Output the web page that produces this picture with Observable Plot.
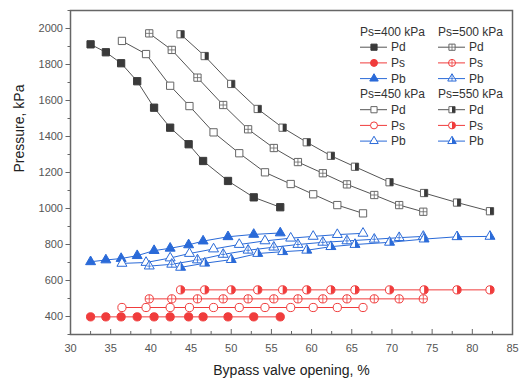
<!DOCTYPE html>
<html>
<head>
<meta charset="utf-8">
<script src="https://cdn.jsdelivr.net/npm/d3@7"></script>
<script src="https://cdn.jsdelivr.net/npm/@observablehq/plot@0.6"></script>
<style>
  html, body { margin: 0; padding: 0; background: #fff; }
  #chart { width: 528px; height: 385px; }
</style>
</head>
<body>
<div id="chart"></div>
<script>
// ---- data ----
const x400 = [32.5, 34.4, 36.3, 38.3, 40.4, 42.4, 44.7, 46.5, 49.6, 52.8, 56.1];
const pd400 = [1912, 1868, 1807, 1707, 1560, 1449, 1357, 1264, 1153, 1062, 1007];
const ps400 = [398, 398, 398, 398, 398, 398, 398, 398, 398, 398, 398];
const pb400 = [704, 714, 722, 738, 766, 779, 798, 819, 843, 856, 864];

const x450 = [36.4, 39.4, 42.4, 44.8, 47.8, 51.0, 54.2, 57.4, 60.2, 63.2, 66.4];
const pd450 = [1931, 1858, 1682, 1569, 1423, 1307, 1201, 1136, 1079, 1019, 973];
const ps450 = [450, 450, 450, 450, 450, 450, 450, 450, 450, 450, 450];
const pb450 = [695, 700, 725, 750, 775, 800, 820, 835, 845, 855, 862];

const x500 = [39.8, 42.6, 45.8, 49.0, 52.1, 55.3, 58.3, 61.4, 64.4, 67.8, 70.9, 73.9];
const pd500 = [1973, 1881, 1727, 1575, 1440, 1336, 1258, 1196, 1134, 1075, 1019, 982];
const ps500 = [498, 498, 498, 498, 498, 498, 498, 498, 498, 498, 498, 498];
const pb500 = [680, 690, 714, 745, 768, 785, 800, 812, 820, 829, 838, 845];

const x550 = [43.7, 46.7, 50.0, 53.3, 56.4, 59.4, 62.4, 65.4, 69.7, 74.0, 78.1, 82.2];
const pd550 = [1968, 1847, 1692, 1553, 1449, 1368, 1293, 1232, 1146, 1086, 1033, 985];
const ps550 = [548, 548, 548, 548, 548, 548, 548, 548, 548, 548, 548, 548];
const pb550 = [673, 696, 716, 750, 760, 768, 788, 800, 812, 830, 843, 845];

const xTicks = [30, 35, 40, 45, 50, 55, 60, 65, 70, 75, 80, 85];
const yTicks = [400, 600, 800, 1000, 1200, 1400, 1600, 1800, 2000];
const xLabel = "Bypass valve opening, %";
const yLabel = "Pressure, kPa";
const legendTitles = {400: "Ps=400 kPa", 450: "Ps=450 kPa", 500: "Ps=500 kPa", 550: "Ps=550 kPa"};
const varNames = ["Pd", "Ps", "Pb"];

// ---- build table ----
const groups = [
  {p: 400, x: x400, Pd: pd400, Ps: ps400, Pb: pb400, style: "filled"},
  {p: 450, x: x450, Pd: pd450, Ps: ps450, Pb: pb450, style: "open"},
  {p: 500, x: x500, Pd: pd500, Ps: ps500, Pb: pb500, style: "plus"},
  {p: 550, x: x550, Pd: pd550, Ps: ps550, Pb: pb550, style: "half"}
];

// ---- custom symbols ----
const halfSym = {
  square: {draw(ctx, size) { const s = Math.sqrt(size) / 2; ctx.moveTo(0, -s); ctx.lineTo(s, -s); ctx.lineTo(s, s); ctx.lineTo(0, s); ctx.closePath(); }},
  circle: {draw(ctx, size) { const r = Math.sqrt(size / Math.PI); ctx.moveTo(0, -r); ctx.arc(0, 0, r, -Math.PI / 2, Math.PI / 2); ctx.closePath(); }},
  triangle: {draw(ctx, size) { const y = -Math.sqrt(size / (Math.sqrt(3) * 3)); ctx.moveTo(0, y * 2); ctx.lineTo(-Math.sqrt(3) * y, -y); ctx.lineTo(0, -y); ctx.closePath(); }}
};
const plusSym = {
  square: {draw(ctx, size) { const s = Math.sqrt(size) / 2; ctx.moveTo(-s, 0); ctx.lineTo(s, 0); ctx.moveTo(0, -s); ctx.lineTo(0, s); }},
  circle: {draw(ctx, size) { const r = Math.sqrt(size / Math.PI); ctx.moveTo(-r, 0); ctx.lineTo(r, 0); ctx.moveTo(0, -r); ctx.lineTo(0, r); }},
  triangle: {draw(ctx, size) { const y = -Math.sqrt(size / (Math.sqrt(3) * 3)); const h = -y * 0.75; ctx.moveTo(-h, 0); ctx.lineTo(h, 0); ctx.moveTo(0, 2 * y * 0.8); ctx.lineTo(0, -y); }}
};
const baseSym = {square: d3.symbolSquare, circle: d3.symbolCircle, triangle: d3.symbolTriangle};

const varColor = {Pd: "#3a3a3a", Ps: "#f03c3c", Pb: "#2a6ad8"};
const openColor = {Pd: "#666666", Ps: "#f03c3c", Pb: "#2a6ad8"};
const lineColor = {Pd: "#555555", Ps: "#f03c3c", Pb: "#2a6ad8"};
const varShape = {Pd: "square", Ps: "circle", Pb: "triangle"};
const varR = {Pd: 4.1, Ps: 4.1, Pb: 3.7};

const lineMarks = [];
const dotMarks = [];
for (const g of groups) {
  for (const v of varNames) {
    const rows = g.x.map((x, i) => ({x, P: g[v][i]}));
    const c = g.style === "filled" ? varColor[v] : openColor[v];
    const shape = varShape[v], r = varR[v];
    lineMarks.push(Plot.line(rows, {x: "x", y: "P", stroke: lineColor[v], strokeWidth: 1}));
    dotMarks.push(Plot.dot(rows, {x: "x", y: "P", r, symbol: baseSym[shape],
      fill: g.style === "filled" ? c : "white", stroke: c, strokeWidth: 1}));
    if (g.style === "plus") dotMarks.push(Plot.dot(rows, {x: "x", y: "P", r, symbol: plusSym[shape], fill: "none", stroke: c, strokeWidth: 0.8}));
    if (g.style === "half") dotMarks.push(Plot.dot(rows, {x: "x", y: "P", r, symbol: halfSym[shape], fill: varColor[v], stroke: "none"}));
  }
}

const chart = Plot.plot({
  width: 528, height: 385,
  marginLeft: 70, marginRight: 16, marginTop: 10, marginBottom: 51,
  style: {fontFamily: "Liberation Sans, Arial, sans-serif", background: "white", color: "#444"},
  x: {domain: [30, 85]},
  y: {domain: [300, 2100]},
  marks: [
    Plot.axisY(d3.range(300, 2101, 100), {tickSize: 2.5, text: null, label: null, stroke: "#666"}),
    Plot.axisY(yTicks, {tickSize: 4.5, tickPadding: 3, fontSize: 11, label: null, stroke: "#666", fill: "#555", tickFormat: "d"}),
    Plot.axisX(d3.range(32.5, 85, 5), {tickSize: -3, text: null, label: null, stroke: "#666"}),
    Plot.axisX(xTicks, {tickSize: -5, text: null, label: null, stroke: "#666"}),
    Plot.axisX(xTicks, {tickSize: 0, tickPadding: 10, fontSize: 11, label: null, fill: "#555", tickFormat: "d"}),
    Plot.text([xLabel], {frameAnchor: "bottom", dy: 40, fontSize: 14, fill: "#222"}),
    Plot.text([yLabel], {frameAnchor: "left", dx: -51, rotate: -90, fontSize: 14, fill: "#222"}),
    ...lineMarks,
    ...dotMarks,
    Plot.frame({stroke: "#666", strokeWidth: 1.5})
  ]
});
document.getElementById("chart").appendChild(chart);

// ---- legend inside the plot area ----
const svg = d3.select(chart);
const leg = svg.append("g")
  .attr("font-family", "Liberation Sans, Arial, sans-serif")
  .attr("font-size", 12).attr("fill", "#333").attr("text-anchor", "start");
const blocks = [[400, 500], [450, 550]];
const colX = [360, 438];
const blockY = [31.5, 94];
const rowH = 15.7;
blocks.forEach((blk, b) => {
  blk.forEach((p, c) => {
    const g = groups.find(d => d.p === p);
    const x0 = colX[c], y0 = blockY[b];
    leg.append("text").attr("x", x0).attr("y", y0).attr("dy", "0.35em").attr("text-anchor", "start").text(legendTitles[p]);
    varNames.forEach((v, k) => {
      const y = y0 + (k + 1) * rowH;
      const col = g.style === "filled" ? varColor[v] : openColor[v], shape = varShape[v];
      const area = Math.PI * Math.pow(varR[v] * 0.85, 2);
      leg.append("line").attr("x1", x0).attr("x2", x0 + 27).attr("y1", y).attr("y2", y).attr("stroke", lineColor[v]).attr("stroke-width", 1);
      const t = `translate(${x0 + 14},${y})`;
      leg.append("path").attr("transform", t).attr("d", d3.symbol(baseSym[shape], area)())
        .attr("fill", g.style === "filled" ? col : "white").attr("stroke", col).attr("stroke-width", 1);
      if (g.style === "plus") leg.append("path").attr("transform", t).attr("d", d3.symbol(plusSym[shape], area)()).attr("fill", "none").attr("stroke", col).attr("stroke-width", 0.8);
      if (g.style === "half") leg.append("path").attr("transform", t).attr("d", d3.symbol(halfSym[shape], area)()).attr("fill", varColor[v]);
      leg.append("text").attr("x", x0 + 31).attr("y", y).attr("dy", "0.35em").attr("text-anchor", "start").text(v);
    });
  });
});
</script>
</body>
</html>
